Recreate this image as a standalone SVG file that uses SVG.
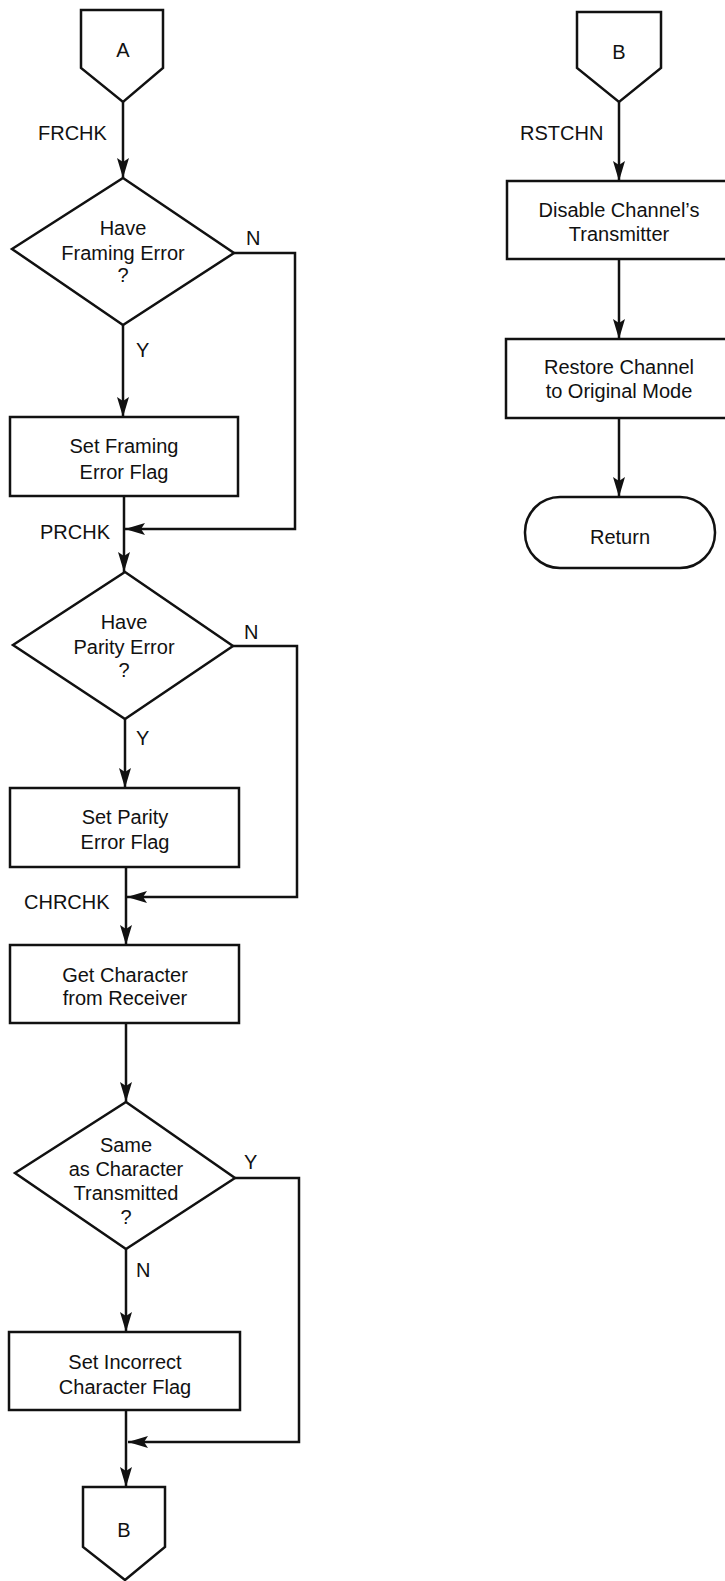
<svg xmlns="http://www.w3.org/2000/svg" width="725" height="1581" viewBox="0 0 725 1581">
<style>
.s{fill:#fff;stroke:#111;stroke-width:2.5;stroke-linejoin:miter}
.c{fill:none;stroke:#111;stroke-width:2.5}
text{font-family:"Liberation Sans",Arial,sans-serif;font-size:20px;fill:#111}
.m{text-anchor:middle}
</style>
<defs>
<marker id="ah" markerUnits="userSpaceOnUse" markerWidth="20" markerHeight="14" viewBox="0 0 20 14" refX="20" refY="7" orient="auto">
<path d="M0,1 L20,7 L0,13 L4,7 Z" fill="#111"/>
</marker>
</defs>
<rect width="725" height="1581" fill="#fff"/>
<g id="connectors">
<path class="c" d="M123,102 V178" marker-end="url(#ah)"/>
<path class="c" d="M123,325 V417" marker-end="url(#ah)"/>
<path class="c" d="M234,253 H295 V529 H125" marker-end="url(#ah)"/>
<path class="c" d="M124,496 V572" marker-end="url(#ah)"/>
<path class="c" d="M125,719 V788" marker-end="url(#ah)"/>
<path class="c" d="M233,646 H297 V897 H127" marker-end="url(#ah)"/>
<path class="c" d="M126,867 V945" marker-end="url(#ah)"/>
<path class="c" d="M126,1023 V1102" marker-end="url(#ah)"/>
<path class="c" d="M126,1249 V1332" marker-end="url(#ah)"/>
<path class="c" d="M235,1178 H299 V1442 H128" marker-end="url(#ah)"/>
<path class="c" d="M126,1410 V1487" marker-end="url(#ah)"/>
<path class="c" d="M619,102 V181" marker-end="url(#ah)"/>
<path class="c" d="M619,259 V339" marker-end="url(#ah)"/>
<path class="c" d="M619,418 V497" marker-end="url(#ah)"/>
</g>
<g id="labels">
<text x="38" y="140">FRCHK</text>
<text x="246" y="245">N</text>
<text x="136" y="357">Y</text>
<text x="40" y="539">PRCHK</text>
<text x="244" y="639">N</text>
<text x="136" y="745">Y</text>
<text x="24" y="909">CHRCHK</text>
<text x="244" y="1169">Y</text>
<text x="136" y="1277">N</text>
<text x="520" y="140">RSTCHN</text>
</g>
<g id="connA">
<path class="s" d="M81,10 H163 V68 L123,102 L81,68 Z"/>
<text class="m" x="123" y="57">A</text>
</g>
<g id="dec1">
<path class="s" d="M123,178 L234,253 L123,325 L12,249 Z"/>
<text class="m" x="123" y="235">Have</text>
<text class="m" x="123" y="260">Framing Error</text>
<text class="m" x="123" y="282">?</text>
</g>
<g id="proc1">
<rect class="s" x="10" y="417" width="228" height="79"/>
<text class="m" x="124" y="453">Set Framing</text>
<text class="m" x="124" y="479">Error Flag</text>
</g>
<g id="dec2">
<path class="s" d="M125,572 L233,646 L125,719 L13,645 Z"/>
<text class="m" x="124" y="629">Have</text>
<text class="m" x="124" y="654">Parity Error</text>
<text class="m" x="124" y="677">?</text>
</g>
<g id="proc2">
<rect class="s" x="10" y="788" width="229" height="79"/>
<text class="m" x="125" y="824">Set Parity</text>
<text class="m" x="125" y="849">Error Flag</text>
</g>
<g id="proc3">
<rect class="s" x="10" y="945" width="229" height="78"/>
<text class="m" x="125" y="982">Get Character</text>
<text class="m" x="125" y="1005">from Receiver</text>
</g>
<g id="dec3">
<path class="s" d="M126,1102 L235,1178 L126,1249 L15,1173 Z"/>
<text class="m" x="126" y="1152">Same</text>
<text class="m" x="126" y="1176">as Character</text>
<text class="m" x="126" y="1200">Transmitted</text>
<text class="m" x="126" y="1224">?</text>
</g>
<g id="proc4">
<rect class="s" x="9" y="1332" width="231" height="78"/>
<text class="m" x="125" y="1369">Set Incorrect</text>
<text class="m" x="125" y="1394">Character Flag</text>
</g>
<g id="connB1">
<path class="s" d="M83,1487 H165 V1547 L125,1580 L83,1547 Z"/>
<text class="m" x="124" y="1537">B</text>
</g>
<g id="connB2">
<path class="s" d="M577,12 H661 V68 L619,102 L577,68 Z"/>
<text class="m" x="619" y="59">B</text>
</g>
<g id="proc5">
<rect class="s" x="507" y="181" width="226" height="78"/>
<text class="m" x="619" y="217">Disable Channel’s</text>
<text class="m" x="619" y="241">Transmitter</text>
</g>
<g id="proc6">
<rect class="s" x="506" y="339" width="227" height="79"/>
<text class="m" x="619" y="374">Restore Channel</text>
<text class="m" x="619" y="398">to Original Mode</text>
</g>
<g id="ret">
<rect class="s" x="525" y="497" width="190" height="71" rx="35" ry="35"/>
<text class="m" x="620" y="544">Return</text>
</g>
</svg>
